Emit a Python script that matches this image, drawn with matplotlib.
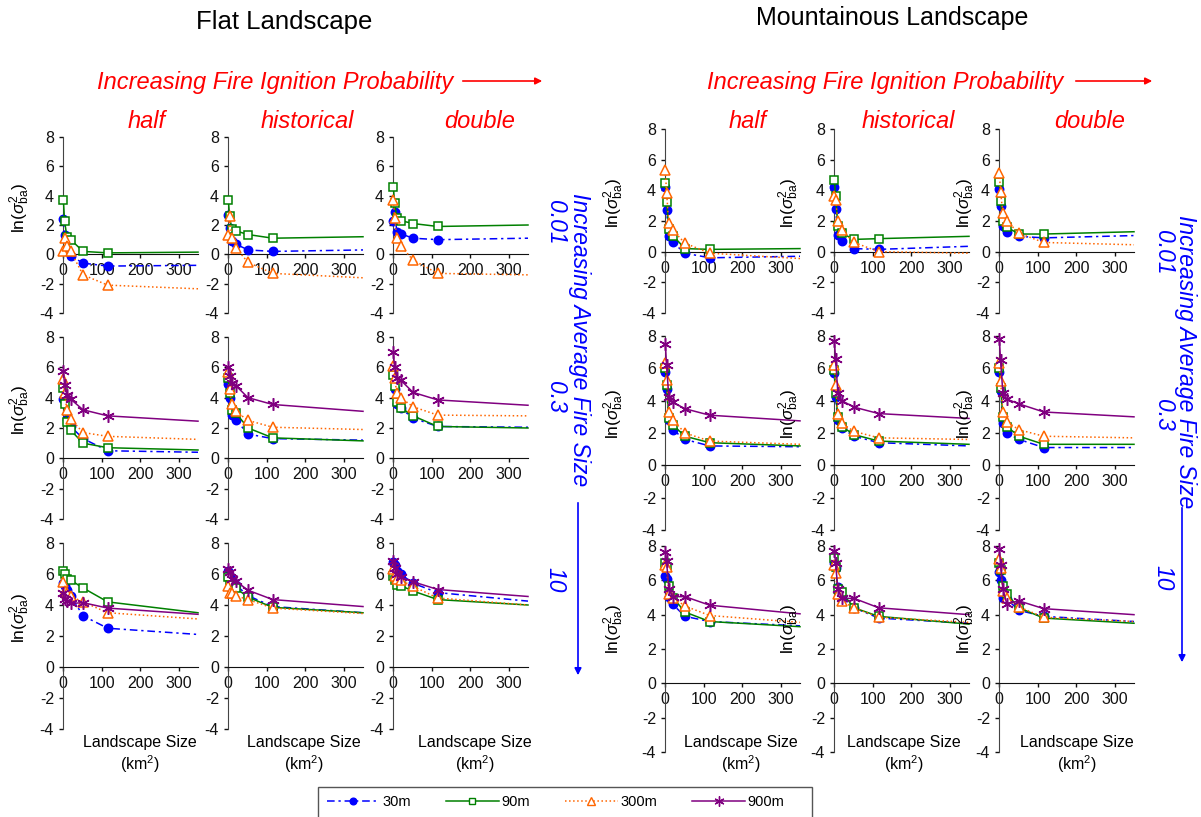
import matplotlib.pyplot as plt
from matplotlib.lines import Line2D
from matplotlib.patches import FancyArrowPatch, Rectangle

plt.rcParams['font.family'] = ['Liberation Sans', 'DejaVu Sans']
plt.rcParams['axes.unicode_minus'] = False
plt.rcParams['mathtext.fontset'] = 'custom'
plt.rcParams['mathtext.rm'] = 'Liberation Sans'
plt.rcParams['mathtext.it'] = 'Liberation Sans:italic'

W, H = 1201, 817

# landscape sizes (km2); last value is where the fitted curve ends
sizes = [1, 4, 10, 20, 52, 116, 350]
resolutions = ['30m', '90m', '300m', '900m']
fire_sizes = ['0.01', '0.3', '10']
ignition = ['half', 'historical', 'double']

# ---- flat landscape: ln(var) per resolution ----
flat_001_half = {'30m': [2.4, 1.3, 0.3, -0.1, -0.6, -0.8, -0.75],
                 '90m': [3.7, 2.3, 1.2, 1.0, 0.2, 0.1, 0.15],
                 '300m': [0.2, 1.1, 0.6, 0.2, -1.4, -2.1, -2.35]}
flat_001_hist = {'30m': [2.7, 1.8, 0.9, 0.7, 0.3, 0.2, 0.3],
                 '90m': [3.7, 2.6, 1.7, 1.6, 1.35, 1.1, 1.2],
                 '300m': [1.3, 2.6, 1.1, 0.45, -0.55, -1.3, -1.6]}
flat_001_double = {'30m': [2.3, 2.9, 1.55, 1.4, 1.1, 1.0, 1.1],
                   '90m': [4.6, 3.5, 2.5, 2.3, 2.1, 1.9, 2.0],
                   '300m': [3.7, 2.5, 1.1, 0.6, -0.4, -1.3, -1.4]}

flat_03_half = {'30m': [3.9, 3.9, 2.6, 2.1, 1.3, 0.5, 0.4],
                '90m': [4.65, 3.55, 2.4, 1.85, 1.0, 0.7, 0.55],
                '300m': [5.2, 4.3, 3.2, 2.6, 1.7, 1.45, 1.25],
                '900m': [5.75, 4.85, 4.2, 3.9, 3.2, 2.8, 2.45]}
flat_03_hist = {'30m': [4.9, 4.0, 2.85, 2.55, 1.6, 1.3, 1.2],
                '90m': [5.3, 4.3, 3.2, 3.0, 2.0, 1.35, 1.15],
                '300m': [5.7, 4.6, 3.55, 3.1, 2.5, 2.05, 1.9],
                '900m': [6.0, 5.4, 5.0, 4.8, 4.0, 3.55, 3.1]}
flat_03_double = {'30m': [5.8, 4.6, 3.6, 3.3, 2.65, 2.1, 2.05],
                  '90m': [5.5, 4.8, 3.7, 3.35, 2.8, 2.1, 2.0],
                  '300m': [6.1, 5.3, 4.3, 4.0, 3.4, 2.85, 2.8],
                  '900m': [7.0, 6.05, 5.3, 5.15, 4.35, 3.85, 3.5]}

flat_10_half = {'30m': [5.4, 5.2, 5.0, 4.6, 3.3, 2.5, 2.1],
                '90m': [6.2, 6.0, 5.7, 5.6, 5.1, 4.2, 3.5],
                '300m': [5.5, 4.9, 4.8, 4.55, 4.2, 3.5, 3.1],
                '900m': [4.75, 4.4, 4.25, 4.1, 4.15, 3.8, 3.4]}
flat_10_hist = {'30m': [6.2, 5.9, 5.6, 5.3, 4.6, 3.9, 3.5],
                '90m': [5.8, 5.3, 4.9, 5.1, 4.5, 3.85, 3.5],
                '300m': [5.25, 4.8, 4.75, 4.6, 4.35, 3.8, 3.45],
                '900m': [6.35, 6.1, 5.7, 5.55, 4.95, 4.35, 3.9]}
flat_10_double = {'30m': [6.8, 6.6, 6.2, 6.0, 5.4, 4.8, 4.25],
                  '90m': [5.85, 5.6, 5.3, 5.25, 4.9, 4.35, 4.0],
                  '300m': [6.3, 5.9, 5.7, 5.6, 5.2, 4.45, 4.0],
                  '900m': [6.85, 6.4, 6.0, 5.8, 5.5, 5.0, 4.55]}

# ---- mountainous landscape ----
mount_001_half = {'30m': [4.2, 2.7, 1.0, 0.6, -0.1, -0.4, -0.3],
                  '90m': [4.5, 3.25, 1.5, 1.05, 0.2, 0.15, 0.2],
                  '300m': [5.3, 3.85, 1.9, 1.4, 0.55, -0.1, -0.45]}
mount_001_hist = {'30m': [4.2, 2.8, 1.1, 0.7, 0.2, 0.15, 0.35],
                  '90m': [4.7, 3.6, 1.7, 1.2, 0.8, 0.85, 1.0],
                  '300m': [3.6, 3.4, 2.0, 1.4, 0.6, 0.0, -0.1]}
mount_001_double = {'30m': [4.1, 3.0, 1.7, 1.3, 1.0, 0.9, 1.05],
                    '90m': [4.55, 3.3, 2.0, 1.6, 1.15, 1.15, 1.3],
                    '300m': [5.1, 3.9, 2.55, 2.0, 1.2, 0.6, 0.45]}

mount_03_half = {'30m': [5.8, 4.7, 2.8, 2.2, 1.6, 1.2, 1.15],
                 '90m': [6.0, 5.0, 2.9, 2.5, 1.8, 1.4, 1.2],
                 '300m': [6.3, 5.3, 3.3, 2.8, 2.0, 1.5, 1.3],
                 '900m': [7.5, 6.2, 4.2, 3.9, 3.5, 3.1, 2.75]}
mount_03_hist = {'30m': [5.7, 4.2, 2.8, 2.3, 1.8, 1.4, 1.2],
                 '90m': [5.9, 4.5, 3.0, 2.4, 1.9, 1.5, 1.3],
                 '300m': [6.2, 5.0, 3.2, 2.6, 2.1, 1.7, 1.6],
                 '900m': [7.7, 6.6, 4.5, 4.0, 3.6, 3.2, 2.9]}
mount_03_double = {'30m': [5.8, 4.6, 2.6, 2.0, 1.6, 1.1, 1.1],
                   '90m': [6.0, 4.8, 3.0, 2.4, 1.8, 1.3, 1.3],
                   '300m': [6.3, 5.2, 3.3, 2.7, 2.2, 1.8, 1.7],
                   '900m': [7.8, 6.5, 4.5, 4.1, 3.8, 3.3, 3.0]}

mount_10_half = {'30m': [6.25, 6.05, 5.05, 4.6, 3.9, 3.6, 3.35],
                 '90m': [7.0, 6.8, 5.65, 5.0, 4.15, 3.6, 3.3],
                 '300m': [6.9, 6.75, 5.2, 5.0, 4.5, 3.95, 3.55],
                 '900m': [7.65, 7.1, 5.5, 5.05, 5.05, 4.55, 4.05]}
mount_10_hist = {'30m': [7.0, 6.7, 5.6, 5.0, 4.4, 3.8, 3.5],
                 '90m': [7.3, 6.8, 5.5, 5.3, 4.4, 3.9, 3.45],
                 '300m': [6.9, 6.45, 5.2, 4.8, 4.4, 3.85, 3.55],
                 '900m': [7.7, 7.0, 5.5, 4.95, 4.95, 4.4, 4.0]}
mount_10_double = {'30m': [6.5, 6.0, 5.0, 4.9, 4.25, 3.9, 3.6],
                   '90m': [7.0, 6.6, 5.65, 5.2, 4.4, 3.8, 3.5],
                   '300m': [7.25, 6.7, 5.4, 5.0, 4.45, 3.85, 3.6],
                   '900m': [7.8, 6.9, 5.5, 4.65, 4.8, 4.35, 4.0]}

flat_grid = [[flat_001_half, flat_001_hist, flat_001_double],
             [flat_03_half, flat_03_hist, flat_03_double],
             [flat_10_half, flat_10_hist, flat_10_double]]
mount_grid = [[mount_001_half, mount_001_hist, mount_001_double],
              [mount_03_half, mount_03_hist, mount_03_double],
              [mount_10_half, mount_10_hist, mount_10_double]]

styles = {
    '30m': dict(color='#0000ff', ls=(0, (5, 2.5, 1.5, 2.5)), marker='o', mfc='#0000ff', ms=6),
    '90m': dict(color='#008000', ls='-', marker='s', mfc='white', ms=6),
    '300m': dict(color='#ff6600', ls=':', marker='^', mfc='white', ms=6.5),
    '900m': dict(color='#800080', ls='-', marker=(6, 2, 0), mfc='#800080', ms=9),
}

fig = plt.figure(figsize=(W / 100, H / 100), dpi=100)

ylab = 'ln(' + r'$\sigma^{2}_{\mathrm{ba}}$' + ')'


def add_panel(left, top, bottom, data, ylabel_x=None):
    ax = fig.add_axes([left / W, 1 - bottom / H, 135 / W, (bottom - top) / H])
    for res in resolutions:
        if res not in data:
            continue
        st = styles[res]
        ax.plot(sizes, data[res], color=st['color'], ls=st['ls'], lw=1.1,
                marker=st['marker'], ms=st['ms'], mfc=st['mfc'], mec=st['color'],
                mew=1.1, markevery=list(range(6)), clip_on=False, zorder=3)
    ax.set_xlim(0, 350)
    ax.set_ylim(-4, 8)
    ax.set_xticks([0, 100, 200, 300])
    ax.set_yticks([-4, -2, 0, 2, 4, 6, 8])
    ax.spines['top'].set_visible(False)
    ax.spines['right'].set_visible(False)
    ax.spines['bottom'].set_position(('data', 0))
    ax.spines['left'].set_color('#444444')
    ax.spines['bottom'].set_color('#111111')
    ax.tick_params(labelsize=11.5, length=3, width=1, colors='#111111')
    ax.patch.set_alpha(0)
    if ylabel_x is not None:
        ax.set_ylabel(ylab, fontsize=12.5)
        ax.yaxis.set_label_coords(ylabel_x, 0.6)
    return ax


flat_left = [63, 228, 393]
mount_left = [665, 834, 999]
flat_rows = [(137, 313), (337, 519), (543, 729)]
mount_rows = [(129, 313), (336, 530), (546, 752)]
mount_ylab_x = [-0.29, -0.245, -0.16]

for r in range(3):
    for c in range(3):
        add_panel(flat_left[c], flat_rows[r][0], flat_rows[r][1], flat_grid[r][c],
                  ylabel_x=-0.23 if c == 0 else None)
        add_panel(mount_left[c], mount_rows[r][0], mount_rows[r][1], mount_grid[r][c],
                  ylabel_x=mount_ylab_x[c])


def ftext(x, y, s, **kw):
    fig.text(x / W, 1 - y / H, s, **kw)


def farrow(x0, y0, x1, y1, color):
    fig.patches.append(FancyArrowPatch(
        (x0 / W, 1 - y0 / H), (x1 / W, 1 - y1 / H), transform=fig.transFigure,
        arrowstyle='-|>', mutation_scale=10, color=color, lw=1.2))


ftext(284, 22, 'Flat Landscape', fontsize=18.5, ha='center', va='center')
ftext(892, 18, 'Mountainous Landscape', fontsize=18, ha='center', va='center')

red_kw = dict(fontsize=17, color='#ff0000', style='italic', va='center')
ftext(97, 82, 'Increasing Fire Ignition Probability', ha='left', **red_kw)
ftext(707, 82, 'Increasing Fire Ignition Probability', ha='left', **red_kw)
farrow(460, 81, 545, 81, '#ff0000')
farrow(1073, 81, 1155, 81, '#ff0000')

for xs in ([147, 307, 480], [748, 908, 1090]):
    for x, lab in zip(xs, ignition):
        ftext(x, 122, lab, ha='center', **red_kw)

blue_kw = dict(fontsize=16.5, color='#0000ff', style='italic', ha='center', va='center',
               rotation=-90)
ftext(579, 340, 'Increasing Average Fire Size', **blue_kw)
ftext(1185, 362, 'Increasing Average Fire Size', **blue_kw)
for y, lab in zip([222, 397, 580], fire_sizes):
    ftext(555, y, lab, **blue_kw)
for y, lab in zip([252, 415, 578], fire_sizes):
    ftext(1163, y, lab, **blue_kw)
farrow(578, 500, 578, 678, '#0000ff')
farrow(1182, 505, 1182, 665, '#0000ff')

for x in [140, 304, 475, 741, 904, 1077]:
    ftext(x, 743, 'Landscape Size', fontsize=11.5, ha='center', va='center')
    ftext(x, 764, '(km$^2$)', fontsize=11.5, ha='center', va='center')

# legend box drawn separately so it can run off the bottom edge like the original
fig.patches.append(Rectangle((318 / W, 1 - 830 / H), 494 / W, 43 / H,
                             transform=fig.transFigure, fill=False,
                             edgecolor='#555555', lw=1.0))
handles = []
for res in resolutions:
    st = styles[res]
    handles.append(Line2D([], [], color=st['color'], ls=st['ls'], lw=1.1,
                          marker=st['marker'], ms=st['ms'] * 0.8, mfc=st['mfc'],
                          mec=st['color']))
fig.legend(handles, resolutions, loc='center left', bbox_to_anchor=(327 / W, 1 - 802 / H),
           ncol=4, frameon=False, handlelength=3.6, columnspacing=2.4, fontsize=10.5,
           borderpad=0, borderaxespad=0, handletextpad=0.2)

fig.savefig('out.png', dpi=100)
